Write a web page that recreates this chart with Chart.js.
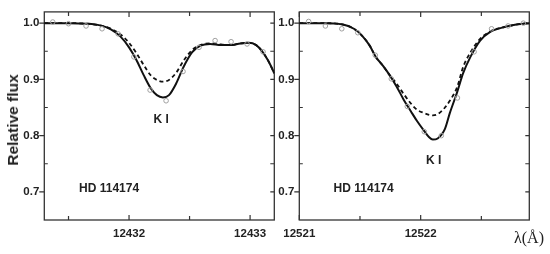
<!DOCTYPE html>
<html>
<head>
<meta charset="utf-8">
<script src="https://cdn.jsdelivr.net/npm/chart.js@4"></script>
<style>
  html, body { margin: 0; padding: 0; background: #fff; }
  #wrap { position: relative; width: 550px; height: 254px; overflow: hidden; }
  canvas { position: absolute; top: 0; }
  #c-left { left: 0; }
  #c-right { left: 276px; }
  .ytitle {
    position: absolute; left: 13px; top: 120px;
    transform: translate(-50%, -50%) rotate(-90deg);
    font: bold 15.5px "Liberation Sans", Arial, sans-serif; color: #222; white-space: nowrap;
  }
  .xtitle {
    position: absolute; left: 514px; top: 229px;
    font: 16px "Liberation Serif", "DejaVu Serif", serif; color: #222; white-space: nowrap;
  }
</style>
</head>
<body>
<div id="wrap">
  <canvas id="c-left" width="280" height="254"></canvas>
  <canvas id="c-right" width="274" height="254"></canvas>
  <div class="ytitle">Relative flux</div>
  <div class="xtitle">λ(Å)</div>
</div>
<script>
// ── Data: left panel (K I 12432) ──────────────
const leftWave = [12431.30, 12431.50, 12431.65, 12431.76, 12431.85, 12431.93, 12432.00, 12432.06, 12432.12, 12432.18, 12432.23, 12432.28, 12432.33, 12432.39, 12432.45, 12432.52, 12432.59, 12432.67, 12432.76, 12432.84, 12432.92, 12432.99, 12433.05, 12433.10, 12433.15, 12433.20];
const leftSolid = [1.000, 1.000, 0.999, 0.996, 0.989, 0.976, 0.957, 0.935, 0.908, 0.884, 0.872, 0.868, 0.872, 0.893, 0.922, 0.948, 0.960, 0.963, 0.961, 0.961, 0.964, 0.965, 0.961, 0.950, 0.933, 0.911];
const leftDashed = [1.000, 1.000, 0.999, 0.996, 0.990, 0.980, 0.965, 0.947, 0.926, 0.907, 0.899, 0.896, 0.899, 0.912, 0.933, 0.952, 0.961, 0.964, 0.962, 0.961, 0.964, 0.965, 0.961, 0.950, 0.933, 0.911];
const leftObsWave = [12431.37, 12431.50, 12431.645, 12431.777, 12431.91, 12432.04, 12432.174, 12432.306, 12432.446, 12432.578, 12432.711, 12432.843, 12432.975, 12433.107];
const leftObsFlux = [1.002, 0.999, 0.995, 0.990, 0.981, 0.940, 0.881, 0.862, 0.914, 0.957, 0.969, 0.967, 0.963, 0.949];
const leftXMajor = [12432, 12433];
const leftXMinor = [12431.5, 12432.5];

// ── Data: right panel (K I 12522) ─────────────
const rightWave = [12521.00, 12521.20, 12521.35, 12521.45, 12521.52, 12521.58, 12521.63, 12521.69, 12521.74, 12521.80, 12521.86, 12521.92, 12521.97, 12522.03, 12522.07, 12522.10, 12522.14, 12522.20, 12522.24, 12522.30, 12522.35, 12522.41, 12522.49, 12522.57, 12522.69, 12522.80, 12522.90];
const rightSolid = [1.000, 1.000, 0.998, 0.990, 0.977, 0.960, 0.940, 0.924, 0.909, 0.888, 0.864, 0.843, 0.826, 0.808, 0.797, 0.793, 0.795, 0.812, 0.840, 0.877, 0.911, 0.940, 0.969, 0.984, 0.993, 0.998, 1.000];
const rightDashed = [1.000, 1.000, 0.998, 0.990, 0.977, 0.960, 0.940, 0.924, 0.909, 0.893, 0.874, 0.857, 0.846, 0.840, 0.837, 0.836, 0.838, 0.850, 0.862, 0.886, 0.922, 0.948, 0.972, 0.985, 0.993, 0.998, 1.000];
const rightObsWave = [12521.077, 12521.215, 12521.35, 12521.482, 12521.626, 12521.758, 12521.89, 12522.03, 12522.17, 12522.303, 12522.44, 12522.584, 12522.72, 12522.846];
const rightObsFlux = [1.003, 0.995, 0.990, 0.983, 0.943, 0.901, 0.852, 0.807, 0.800, 0.867, 0.949, 0.990, 0.995, 1.000];
const rightXMajor = [12521, 12522];
const rightXMinor = [12521.5, 12522.5];

// ── Shared axis ticks / labels ────────────────
const yMajor = [0.7, 0.8, 0.9, 1.0];
const yMinor = [0.75, 0.85, 0.95];
const starName = 'HD 114174';
const lineName = 'K I';

const FONT = '"Liberation Sans", Arial, sans-serif';
const INK = '#222';

const pts = (xs, ys) => xs.map((x, i) => ({ x, y: ys[i] }));

// frame + inward/outward ticks, drawn from the scales
const frameTicks = {
  id: 'frameTicks',
  beforeDatasetsDraw(chart, args, opts) {
    const { ctx, chartArea: a, scales: { x, y } } = chart;
    ctx.save();
    ctx.strokeStyle = '#333';
    ctx.lineWidth = 1.3;
    ctx.strokeRect(a.left, a.top, a.right - a.left, a.bottom - a.top);
    ctx.lineWidth = 1.2;
    ctx.beginPath();
    const xt = (v, len) => {
      const px = x.getPixelForValue(v);
      ctx.moveTo(px, a.bottom); ctx.lineTo(px, a.bottom - len);
      ctx.moveTo(px, a.top); ctx.lineTo(px, a.top + len);
    };
    opts.xMajor.forEach(v => xt(v, 5));
    opts.xMinor.forEach(v => xt(v, 4));
    const yt = (v, lenOut, lenIn) => {
      const py = y.getPixelForValue(v);
      ctx.moveTo(a.left - lenOut, py); ctx.lineTo(a.left + lenIn, py);
      ctx.moveTo(a.right, py); ctx.lineTo(a.right - Math.max(lenIn, 4), py);
    };
    yMajor.forEach(v => yt(v, 5, 0));
    yMinor.forEach(v => yt(v, 0, 3.5));
    ctx.stroke();
    ctx.restore();
  },
  afterDatasetsDraw(chart, args, opts) {
    const { ctx, scales: { x, y } } = chart;
    ctx.save();
    ctx.fillStyle = INK;
    ctx.font = 'bold 12px ' + FONT;
    ctx.textAlign = 'center';
    ctx.textBaseline = 'middle';
    opts.notes.forEach(n => ctx.fillText(n.text, x.getPixelForValue(n.x), y.getPixelForValue(n.y)));
    ctx.restore();
  }
};

function makePanel(id, cfg) {
  const tickFont = { family: FONT, size: 11.5, weight: 'bold' };
  return new Chart(document.getElementById(id), {
    type: 'scatter',
    data: {
      datasets: [
        {
          data: pts(cfg.obsWave, cfg.obsFlux),
          showLine: false,
          pointRadius: 2.3,
          pointBorderWidth: 1,
          pointBorderColor: '#a0a0a0',
          pointBackgroundColor: 'rgba(255,255,255,0)'
        },
        {
          data: pts(cfg.wave, cfg.solid),
          showLine: true,
          borderColor: '#111',
          borderWidth: 2,
          pointRadius: 0,
          cubicInterpolationMode: 'monotone'
        },
        {
          data: pts(cfg.wave, cfg.dashed),
          showLine: true,
          borderColor: '#111',
          borderWidth: 1.8,
          borderDash: [4, 3],
          pointRadius: 0,
          cubicInterpolationMode: 'monotone'
        }
      ]
    },
    options: {
      responsive: false,
      animation: false,
      layout: { padding: { top: 7, right: cfg.padRight, left: 0, bottom: 0 } },
      plugins: {
        legend: { display: false },
        tooltip: { enabled: false },
        frameTicks: { xMajor: cfg.xMajor, xMinor: cfg.xMinor, notes: cfg.notes }
      },
      scales: {
        x: {
          type: 'linear',
          min: cfg.xMin, max: cfg.xMax,
          grid: { display: false, drawTicks: false },
          border: { display: false },
          afterFit: s => { s.height = 34; },
          afterBuildTicks: s => { s.ticks = cfg.xMajor.map(v => ({ value: v })); },
          ticks: { padding: 7, color: INK, font: tickFont, maxRotation: 0, autoSkip: false, callback: v => String(v) }
        },
        y: {
          min: 0.65, max: 1.02,
          grid: { display: false, drawTicks: false },
          border: { display: false },
          afterFit: s => { s.width = cfg.yWidth; },
          afterBuildTicks: s => { s.ticks = yMajor.map(v => ({ value: v })); },
          ticks: { padding: 5, color: INK, font: tickFont, autoSkip: false, callback: v => v.toFixed(1) }
        }
      }
    },
    plugins: [frameTicks]
  });
}

makePanel('c-left', {
  wave: leftWave, solid: leftSolid, dashed: leftDashed,
  obsWave: leftObsWave, obsFlux: leftObsFlux,
  xMajor: leftXMajor, xMinor: leftXMinor,
  xMin: 12431.30, xMax: 12433.20,
  yWidth: 44.3, padRight: 5.7,
  notes: [
    { text: lineName, x: 12432.265, y: 0.828 },
    { text: starName, x: 12431.835, y: 0.706 }
  ]
});

makePanel('c-right', {
  wave: rightWave, solid: rightSolid, dashed: rightDashed,
  obsWave: rightObsWave, obsFlux: rightObsFlux,
  xMajor: rightXMajor, xMinor: rightXMinor,
  xMin: 12521.0, xMax: 12522.895,
  yWidth: 23.3, padRight: 20.7,
  notes: [
    { text: lineName, x: 12522.107, y: 0.755 },
    { text: starName, x: 12521.53, y: 0.706 }
  ]
});
</script>
</body>
</html>
